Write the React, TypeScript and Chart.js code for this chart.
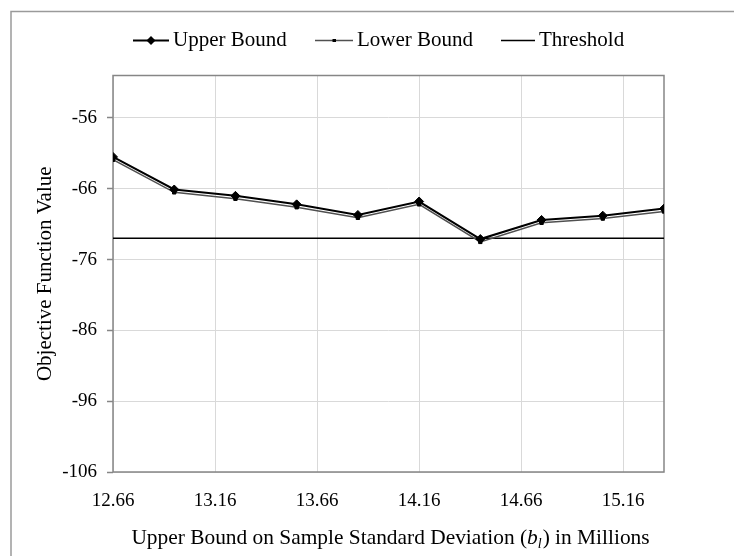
import React, { useEffect, useRef } from "react";
import { Chart, registerables } from "chart.js";

Chart.register(...registerables);

const xValues = [12.66, 12.96, 13.26, 13.56, 13.86, 14.16, 14.46, 14.76, 15.06, 15.36];
const upperBound = [-61.5, -66.1, -67.0, -68.2, -69.7, -67.8, -73.1, -70.4, -69.8, -68.8];
const lowerBound = [-61.9, -66.5, -67.4, -68.6, -70.1, -68.2, -73.5, -70.8, -70.2, -69.2];
const thresholdValue = -73;
const xTicks = [12.66, 13.16, 13.66, 14.16, 14.66, 15.16];
const yTicks = [-106, -96, -86, -76, -66, -56];
const yMin = -106;
const yMax = -50;
const xMin = 12.66;
const xMax = 15.36;

const legendLabels = ["Upper Bound", "Lower Bound", "Threshold"];
const yTitle = "Objective Function Value";
const xTitleStart = "Upper Bound on Sample Standard Deviation (";
const xTitleVar = "b";
const xTitleSub = "l";
const xTitleEnd = ") in Millions";

const FONT = '"Liberation Serif", "Times New Roman", serif';
const AXIS_GRAY = "#868686";
const GRID_GRAY = "#d9d9d9";
const LOWER_GRAY = "#505050";

const customDraw = {
  id: "customDraw",
  beforeDraw(chart: any) {
    const ctx = chart.ctx;
    ctx.save();
    ctx.fillStyle = "#ffffff";
    ctx.fillRect(0, 0, chart.width, chart.height);
    ctx.strokeStyle = "#9a9a9a";
    ctx.lineWidth = 1.5;
    ctx.beginPath();
    ctx.moveTo(chart.width, 11.5);
    ctx.lineTo(11, 11.5);
    ctx.lineTo(11, chart.height);
    ctx.stroke();
    ctx.restore();
  },
  beforeDatasetsDraw(chart: any) {
    const ctx = chart.ctx;
    const a = chart.chartArea;
    ctx.save();
    ctx.strokeStyle = AXIS_GRAY;
    ctx.lineWidth = 1.5;
    ctx.strokeRect(a.left, a.top, a.right - a.left, a.bottom - a.top);
    ctx.restore();
  },
  afterDraw(chart: any) {
    const ctx = chart.ctx;
    const a = chart.chartArea;
    ctx.save();
    const ly = 40.5;
    ctx.font = `21px ${FONT}`;
    ctx.textBaseline = "middle";
    ctx.textAlign = "left";
    ctx.fillStyle = "#000";
    ctx.strokeStyle = "#000";
    ctx.lineWidth = 2;
    ctx.beginPath();
    ctx.moveTo(133, ly);
    ctx.lineTo(169, ly);
    ctx.stroke();
    ctx.beginPath();
    ctx.moveTo(151, ly - 4.5);
    ctx.lineTo(155.5, ly);
    ctx.lineTo(151, ly + 4.5);
    ctx.lineTo(146.5, ly);
    ctx.closePath();
    ctx.fill();
    ctx.fillText(legendLabels[0], 173, ly);
    ctx.strokeStyle = LOWER_GRAY;
    ctx.lineWidth = 1.5;
    ctx.beginPath();
    ctx.moveTo(315, ly);
    ctx.lineTo(353, ly);
    ctx.stroke();
    ctx.fillRect(332.5, ly - 1.5, 3.5, 3);
    ctx.fillText(legendLabels[1], 357, ly);
    ctx.strokeStyle = "#000";
    ctx.beginPath();
    ctx.moveTo(501, ly);
    ctx.lineTo(535, ly);
    ctx.stroke();
    ctx.fillText(legendLabels[2], 539, ly);

    ctx.save();
    ctx.translate(45, (a.top + a.bottom) / 2);
    ctx.rotate(-Math.PI / 2);
    ctx.textAlign = "center";
    ctx.textBaseline = "middle";
    ctx.fillText(yTitle, 0, 0);
    ctx.restore();

    const normal = `21.4px ${FONT}`;
    const ital = `italic 21.4px ${FONT}`;
    const subF = `italic 14px ${FONT}`;
    ctx.textBaseline = "alphabetic";
    ctx.textAlign = "left";
    ctx.font = normal;
    const w1 = ctx.measureText(xTitleStart).width;
    const w4 = ctx.measureText(xTitleEnd).width;
    ctx.font = ital;
    const w2 = ctx.measureText(xTitleVar).width;
    ctx.font = subF;
    const w3 = ctx.measureText(xTitleSub).width + 1;
    const total = w1 + w2 + w3 + w4;
    let x = (a.left + a.right) / 2 + 2 - total / 2;
    const by = 543.5;
    ctx.font = normal;
    ctx.fillText(xTitleStart, x, by);
    x += w1;
    ctx.font = ital;
    ctx.fillText(xTitleVar, x, by);
    x += w2;
    ctx.font = subF;
    ctx.fillText(xTitleSub, x, by + 4);
    x += w3;
    ctx.font = normal;
    ctx.fillText(xTitleEnd, x, by);
    ctx.restore();
  },
};

export default function App() {
  const ref = useRef<HTMLCanvasElement | null>(null);
  useEffect(() => {
    if (!ref.current) return;
    const upperData = xValues.map((x, i) => ({ x, y: upperBound[i] }));
    const lowerData = xValues.map((x, i) => ({ x, y: lowerBound[i] }));
    const thrData = [
      { x: xMin, y: thresholdValue },
      { x: xMax, y: thresholdValue },
    ];
    const chart = new Chart(ref.current, {
      type: "scatter",
      data: {
        datasets: [
          {
            label: legendLabels[2],
            data: thrData,
            showLine: true,
            borderColor: "#000",
            borderWidth: 1.5,
            pointRadius: 0,
            order: 3,
          },
          {
            label: legendLabels[1],
            data: lowerData,
            showLine: true,
            borderColor: LOWER_GRAY,
            borderWidth: 1.5,
            pointStyle: "rect",
            pointRadius: 2.4,
            pointBackgroundColor: "#000",
            pointBorderColor: "#000",
            pointBorderWidth: 1,
            order: 2,
          },
          {
            label: legendLabels[0],
            data: upperData,
            showLine: true,
            borderColor: "#000",
            borderWidth: 2,
            pointStyle: "rectRot",
            pointRadius: 4.5,
            pointBackgroundColor: "#000",
            pointBorderColor: "#000",
            pointBorderWidth: 1,
            order: 1,
          },
        ],
      },
      options: {
        animation: false,
        responsive: false,
        devicePixelRatio: 1,
        layout: { padding: { top: 75.5, right: 70, bottom: 0, left: 0 } },
        plugins: {
          legend: { display: false },
          tooltip: { enabled: false },
          title: { display: false },
        },
        scales: {
          x: {
            type: "linear",
            min: xMin,
            max: xMax,
            afterBuildTicks: (scale: any) => {
              scale.ticks = xTicks.map((v) => ({ value: v }));
            },
            afterFit: (scale: any) => {
              scale.height = 84;
            },
            border: { display: false },
            grid: { color: GRID_GRAY, lineWidth: 1, drawTicks: false },
            ticks: {
              padding: 18,
              color: "#000",
              font: { family: FONT, size: 19 },
              maxRotation: 0,
              autoSkip: false,
              callback: (v: any) => Number(v).toFixed(2),
            },
          },
          y: {
            type: "linear",
            min: yMin,
            max: yMax,
            afterBuildTicks: (scale: any) => {
              scale.ticks = yTicks.map((v) => ({ value: v }));
            },
            afterFit: (scale: any) => {
              scale.width = 113;
            },
            border: { display: false },
            grid: {
              color: GRID_GRAY,
              lineWidth: 1,
              drawTicks: true,
              tickLength: 6,
              tickColor: AXIS_GRAY,
              tickWidth: 1.5,
            },
            ticks: {
              padding: 10,
              color: "#000",
              font: { family: FONT, size: 19 },
              autoSkip: false,
              callback: (v: any) => String(v),
            },
          },
        },
      },
      plugins: [customDraw],
    } as any);
    return () => chart.destroy();
  }, []);
  return (
    <div style={{ position: "fixed", left: 0, top: 0, width: 734, height: 556, background: "#fff" }}>
      <canvas ref={ref} width={734} height={556} style={{ display: "block" }} />
    </div>
  );
}
